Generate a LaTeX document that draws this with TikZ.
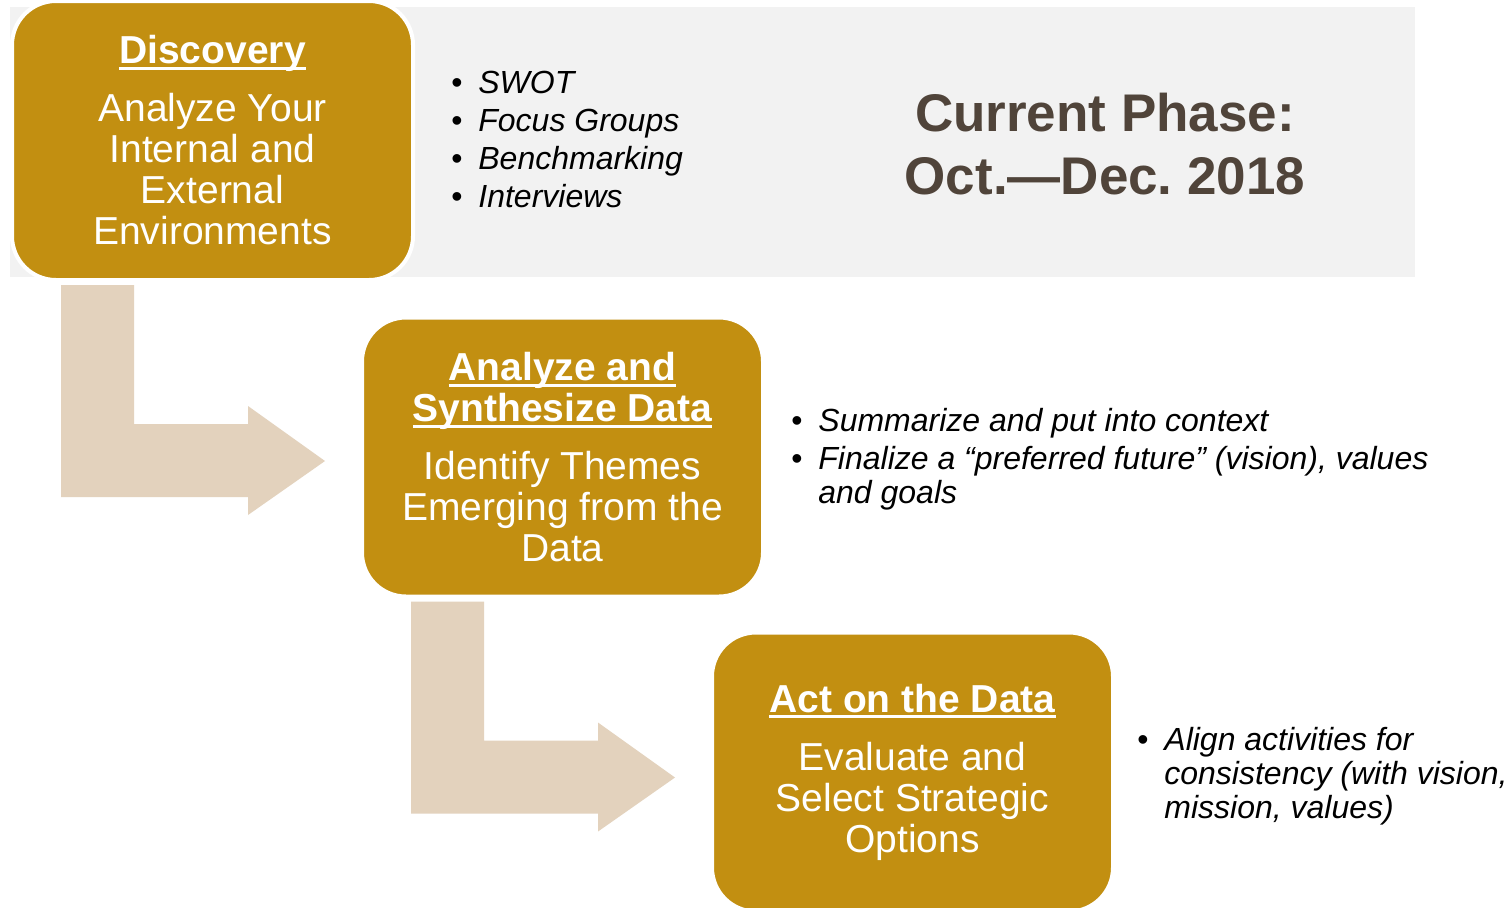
\documentclass[tikz,border=0pt]{standalone}
\usepackage{fontspec}
\setmainfont{Liberation Sans}
\usetikzlibrary{calc}
\frenchspacing

\definecolor{phasegold}{RGB}{194,143,17}
\definecolor{arrowtan}{RGB}{227,210,189}
\definecolor{panelgray}{RGB}{242,242,242}
\definecolor{phasetext}{RGB}{80,68,58}

% bold title with a heavy underline
\newcommand{\ulbold}[1]{\textbf{\setbox0\hbox{#1}\rlap{\rule[-3.2pt]{\wd0}{1.5pt}}\box0}}
% bullet lines
\newcommand{\bitem}[1]{\makebox[13.5pt][l]{\textbullet}\textit{#1}}
\newcommand{\bcont}[1]{\hspace*{13.5pt}\textit{#1}}

\tikzset{
    phase/.style={
            draw=white,
            line width=2pt, % white rim round the box
            fill=phasegold,
            rounded corners=22pt,
            minimum width=200.5pt,
            minimum height=139.5pt,
            inner sep=0pt,
            outer sep=0pt,
            text=white,
            align=center,
            font=\fontsize{19.5pt}{20.5pt}\selectfont
        },
    bullets/.style={inner sep=0pt, anchor=base west, font=\fontsize{16pt}{17pt}\selectfont},
    phasedate/.style={inner sep=0pt, anchor=base, text=phasetext, font=\bfseries\fontsize{26.5pt}{31.5pt}\selectfont},
    bentarrow/.pic={
            \fill[arrowtan] (0,0) -- (73,0) -- (73,139) -- (187,139) -- (187,121)
                -- (264,176) -- (187,230) -- (187,212) -- (0,212) -- cycle;
        }
}

\begin{document}
\begin{tikzpicture}[x=0.5pt, y=-0.5pt]
                \useasboundingbox (0,0) rectangle (1511,907);
                \fill[white] (0,0) rectangle (1511,907);
                % grey panel behind the first step
                \fill[panelgray] (10,7) rectangle (1415,277);

                % nodes
                \node[phase] (s1) at (212.5,140.5) {\ulbold{Discovery}\\[8.5pt]Analyze Your\\Internal and\\External\\Environments};
                \node[phase] (s2) at (562.5,457) {\ulbold{Analyze and}\\\ulbold{Synthesize Data}\\[8.5pt]Identify Themes\\Emerging from the\\Data};
                \node[phase] (s3) at (912.5,772) {\ulbold{Act on the Data}\\[8.5pt]Evaluate and\\Select Strategic\\Options};

                \node[bullets] (b1) at (451,93) {\begin{tabular}[t]{@{}l@{}}
                    \bitem{SWOT}\\[2pt]
                    \bitem{Focus Groups}\\[2pt]
                    \bitem{Benchmarking}\\[2pt]
                    \bitem{Interviews}
                \end{tabular}};
                \node[bullets] (b2) at (791,431) {\begin{tabular}[t]{@{}l@{}}
                    \bitem{Summarize and put into context}\\[2pt]
                    \bitem{Finalize a “preferred future” (vision), values}\\
                    \bcont{and goals}
                \end{tabular}};
                \node[bullets] (b3) at (1137,750) {\begin{tabular}[t]{@{}l@{}}
                    \bitem{Align activities for}\\
                    \bcont{consistency (with vision,}\\
                    \bcont{mission, values)}
                \end{tabular}};

                \node[phasedate] (cp) at (1105,131) {\begin{tabular}[t]{@{}c@{}}Current Phase:\\Oct.—Dec. 2018\end{tabular}};

                % bent arrows
                \pic at ($(s1.south west)+(49,5)$) {bentarrow};
                \pic at ($(s2.south west)+(49,5)$) {bentarrow};

        \end{tikzpicture}
\end{document}
